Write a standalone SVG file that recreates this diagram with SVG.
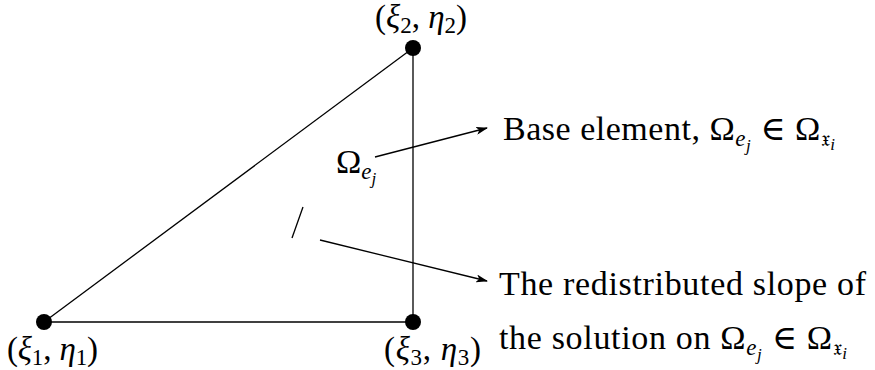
<svg xmlns="http://www.w3.org/2000/svg" width="875" height="370" viewBox="0 0 875 370">
<style>
.t{font-family:"Liberation Serif","DejaVu Serif",serif;font-size:34px;fill:#000}
.n{font-size:33px}
.i{font-style:italic}
.s{font-size:23px}
.ss{font-size:17px;font-style:italic}
.edge{stroke:#000;stroke-width:1.3;fill:none}
.conn{stroke:#000;stroke-width:1.3;fill:none;marker-end:url(#ah)}
.dot{fill:#000}
</style>
<defs>
<marker id="ah" viewBox="0 0 12 8" refX="11" refY="4" markerWidth="12" markerHeight="8" markerUnits="userSpaceOnUse" orient="auto">
<path d="M0,0 L12,4 L0,8 L3,4 z" fill="#000"/>
</marker>
</defs>
<g id="element">
<line class="edge" x1="44" y1="322" x2="413" y2="48"/>
<line class="edge" x1="413" y1="48" x2="413" y2="322" stroke="#333"/>
<line class="edge" x1="44" y1="322" x2="413" y2="322" stroke="#333"/>
<line class="edge" x1="292" y1="238" x2="303" y2="207" stroke-width="1.5"/>
<text class="t" x="336" y="173" font-size="32">Ω<tspan class="s i" dy="6">e</tspan><tspan class="ss" dy="5">j</tspan></text>
</g>
<g id="node2">
<circle class="dot" cx="413" cy="48" r="8"/>
<text class="t n" x="375" y="28" textLength="92" lengthAdjust="spacing">(<tspan class="i">ξ</tspan><tspan class="s" dy="5">2</tspan><tspan dy="-5">, </tspan><tspan class="i">η</tspan><tspan class="s" dy="5">2</tspan><tspan dy="-5">)</tspan></text>
</g>
<g id="node1">
<circle class="dot" cx="44" cy="322" r="8"/>
<text class="t n" x="7" y="360" textLength="91" lengthAdjust="spacing">(<tspan class="i">ξ</tspan><tspan class="s" dy="5">1</tspan><tspan dy="-5">, </tspan><tspan class="i">η</tspan><tspan class="s" dy="5">1</tspan><tspan dy="-5">)</tspan></text>
</g>
<g id="node3">
<circle class="dot" cx="413" cy="322" r="8"/>
<text class="t n" x="384" y="360" textLength="97" lengthAdjust="spacing">(<tspan class="i">ξ</tspan><tspan class="s" dy="5">3</tspan><tspan dy="-5">, </tspan><tspan class="i">η</tspan><tspan class="s" dy="5">3</tspan><tspan dy="-5">)</tspan></text>
</g>
<g id="label-base">
<text class="t" x="503" y="140" textLength="332" lengthAdjust="spacing">Base element, Ω<tspan class="s i" dy="6">e</tspan><tspan class="ss" dy="5">j</tspan><tspan dy="-11"> ∈ Ω</tspan><tspan class="s" dy="6">𝔵</tspan><tspan class="ss" dy="4">i</tspan></text>
</g>
<g id="label-slope">
<text class="t" x="499" y="295" textLength="367" lengthAdjust="spacing">The redistributed slope of</text>
<text class="t" x="499" y="349" textLength="348" lengthAdjust="spacing">the solution on Ω<tspan class="s i" dy="6">e</tspan><tspan class="ss" dy="5">j</tspan><tspan dy="-11"> ∈ Ω</tspan><tspan class="s" dy="6">𝔵</tspan><tspan class="ss" dy="4">i</tspan></text>
</g>
<g id="connectors">
<line class="conn" x1="375" y1="157" x2="487" y2="128"/>
<line class="conn" x1="320" y1="240" x2="487" y2="281"/>
</g>
</svg>
